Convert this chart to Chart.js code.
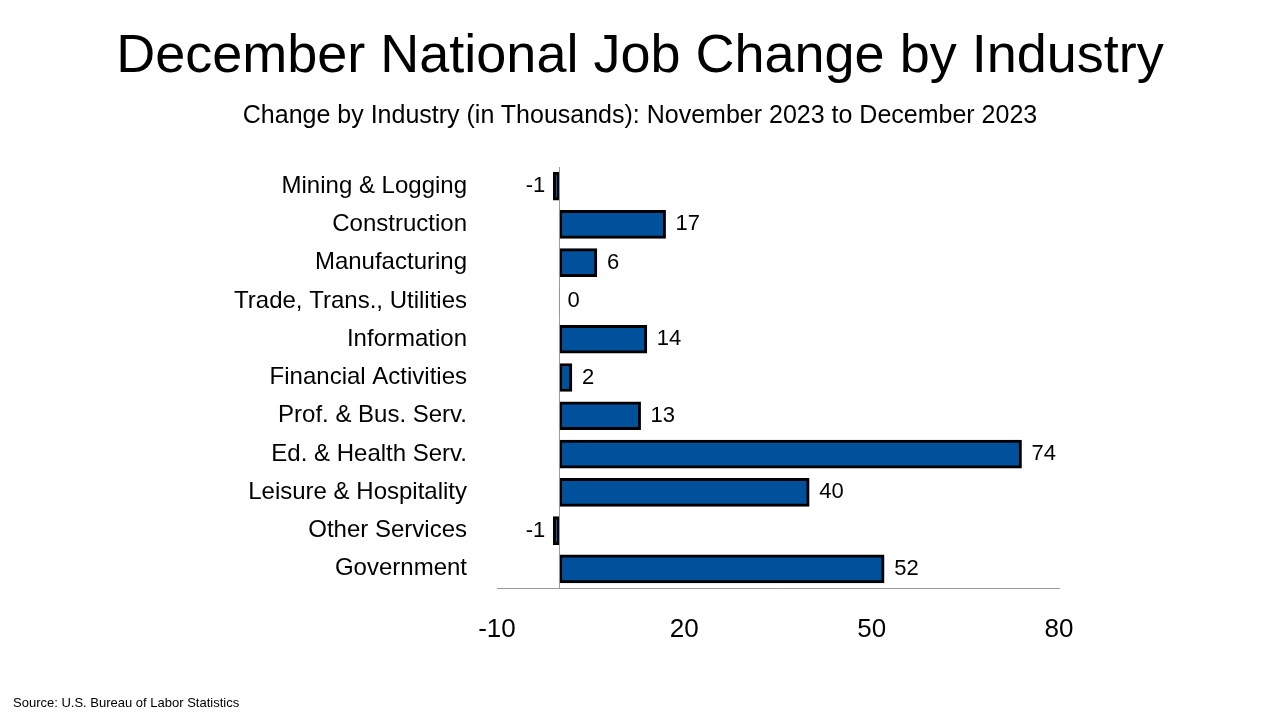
<!DOCTYPE html>
<html>
<head>
<meta charset="utf-8">
<script src="https://cdn.jsdelivr.net/npm/chart.js@4"></script>
<style>
  body { margin: 0; background: #fff; font-family: "Liberation Sans", Arial, sans-serif; }
  #wrap { position: relative; width: 1280px; height: 720px; }
  #title { position: absolute; top: 22px; width: 1280px; text-align: center; font-size: 54px; color: #000; }
  #sub { position: absolute; top: 100px; width: 1280px; text-align: center; font-size: 25px; color: #000; }
  #src { position: absolute; left: 13px; top: 695px; font-size: 13px; color: #000; }
  canvas { position: absolute; left: 0; top: 0; }
</style>
</head>
<body>
<div id="wrap">
  <canvas id="c" width="1280" height="720"></canvas>
  <div id="title">December National Job Change by Industry</div>
  <div id="sub">Change by Industry (in Thousands): November 2023 to December 2023</div>
  <div id="src">Source: U.S. Bureau of Labor Statistics</div>
</div>
<script>
var industries = ['Mining & Logging', 'Construction', 'Manufacturing', 'Trade, Trans., Utilities',
  'Information', 'Financial Activities', 'Prof. & Bus. Serv.', 'Ed. & Health Serv.',
  'Leisure & Hospitality', 'Other Services', 'Government'];
var jobChange = [-1, 17, 6, 0, 14, 2, 13, 74, 40, -1, 52];

var font = 'Liberation Sans';

var valueLabels = {
    id: 'valueLabels',
    afterDatasetsDraw: function(chart) {
        var ctx = chart.ctx;
        var x = chart.scales.x;
        var meta = chart.getDatasetMeta(0);
        // zero line
        ctx.save();
        ctx.strokeStyle = '#999';
        ctx.lineWidth = 1;
        ctx.beginPath();
        ctx.moveTo(x.getPixelForValue(0), chart.chartArea.top);
        ctx.lineTo(x.getPixelForValue(0), chart.chartArea.bottom);
        ctx.stroke();
        ctx.font = '22px ' + font;
        ctx.fillStyle = '#000';
        ctx.textBaseline = 'middle';
        meta.data.forEach(function(bar, i) {
            var v = jobChange[i];
            if (v < 0) {
                ctx.textAlign = 'right';
                ctx.fillText(String(v), bar.x - 8, bar.y);
            } else {
                ctx.textAlign = 'left';
                ctx.fillText(String(v), bar.x + (v === 0 ? 8 : 10), bar.y);
            }
        });
        ctx.restore();
    }
};

new Chart(document.getElementById('c').getContext('2d'), {
    type: 'bar',
    data: {
        labels: industries,
        datasets: [{
            data: jobChange,
            backgroundColor: '#00519C',
            borderColor: '#000',
            borderWidth: function(c) { return jobChange[c.dataIndex] === 0 ? 0 : 3; },
            borderSkipped: false,
            barThickness: 28
        }]
    },
    options: {
        indexAxis: 'y',
        responsive: false,
        animation: false,
        layout: { padding: { top: 167, right: 221, left: 0, bottom: 0 } },
        plugins: { legend: { display: false }, tooltip: { enabled: false } },
        scales: {
            x: {
                min: -10, max: 80,
                afterBuildTicks: function(s) { s.ticks = [-10, 20, 50, 80].map(function(v) { return { value: v }; }); },
                afterFit: function(s) { s.height = 132; },
                grid: { display: false },
                border: { display: true, color: '#999', width: 1 },
                ticks: { color: '#000', font: { family: font, size: 26 }, padding: 18 }
            },
            y: {
                afterFit: function(s) { s.width = 497; },
                grid: { display: false },
                border: { display: false },
                ticks: { color: '#000', font: { family: font, size: 24 }, padding: 22 }
            }
        }
    },
    plugins: [valueLabels]
});
</script>
</body>
</html>
